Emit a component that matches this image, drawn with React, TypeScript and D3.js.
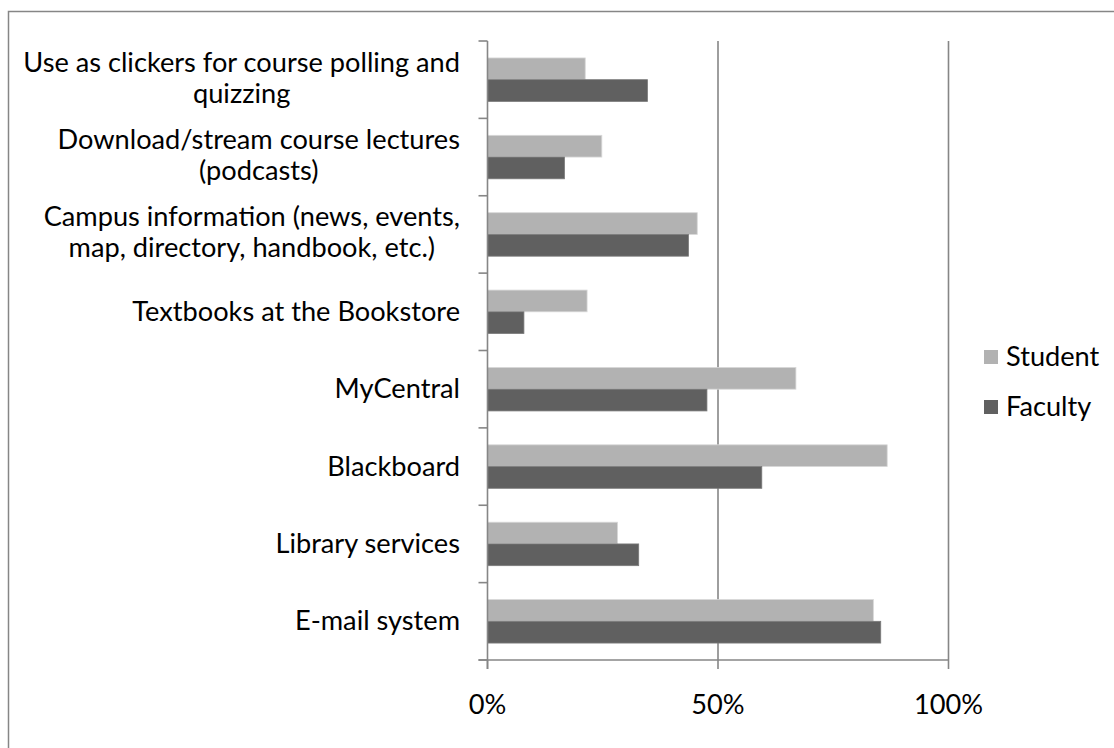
import React, { useEffect, useRef } from "react";
import * as d3 from "d3";

const categories: string[][] = [
  ["Use as clickers for course polling and", "quizzing"],
  ["Download/stream course lectures", "(podcasts)"],
  ["Campus information (news, events,", "map, directory, handbook, etc.)"],
  ["Textbooks at the Bookstore"],
  ["MyCentral"],
  ["Blackboard"],
  ["Library services"],
  ["E-mail system"],
];
const seriesNames = ["Student", "Faculty"];
const studentValues = [0.212, 0.248, 0.455, 0.216, 0.669, 0.867, 0.282, 0.837];
const facultyValues = [0.347, 0.167, 0.436, 0.079, 0.476, 0.595, 0.328, 0.853];
const xTicks = [0, 0.5, 1];
const colors = ["#b2b2b2", "#606060"];

const W = 1114;
const H = 748;
const FONT = "Lato, 'Open Sans', sans-serif";
const FS = 27.2;

export default function App() {
  const ref = useRef<SVGSVGElement | null>(null);

  useEffect(() => {
    const svg = d3.select(ref.current);
    svg.selectAll("*").remove();

    const left = 487.5, right = 948.5, top = 41, bottom = 660;
    const keys = categories.map((c) => c.join(" "));
    const x = d3.scaleLinear().domain([0, 1]).range([left, right]);
    const y = d3.scaleBand<string>().domain(keys).range([top, bottom]).paddingInner(0.438).paddingOuter(0.219);
    const ys = d3.scaleBand<string>().domain(seriesNames).range([0, y.bandwidth()]);
    const step = y.step();
    const gray = "#868686";

    // outer border (clipped by the page)
    svg.append("rect").attr("x", 8.5).attr("y", 11.5).attr("width", 1300).attr("height", 900)
      .attr("fill", "none").attr("stroke", gray).attr("stroke-width", 1.5);

    // gridlines
    svg.append("g").selectAll("line").data(xTicks.filter((t) => t > 0)).join("line")
      .attr("x1", (d) => x(d)).attr("x2", (d) => x(d)).attr("y1", top).attr("y2", bottom)
      .attr("stroke", gray).attr("stroke-width", 1.6);

    // bars
    const data = keys.map((k, i) => ({ k, vals: [studentValues[i], facultyValues[i]] }));
    const g = svg.append("g");
    data.forEach((d) => {
      seriesNames.forEach((s, j) => {
        g.append("rect")
          .attr("x", x(0))
          .attr("y", (y(d.k) as number) + (ys(s) as number))
          .attr("width", x(d.vals[j]) - x(0))
          .attr("height", ys.bandwidth())
          .attr("fill", colors[j])
          .attr("stroke", j === 0 ? "#d8d8d8" : "#7a7a7a")
          .attr("stroke-width", 0.8);
      });
    });

    // y axis
    svg.append("line").attr("x1", left).attr("x2", left).attr("y1", top).attr("y2", bottom + 9)
      .attr("stroke", gray).attr("stroke-width", 1.6);
    const yTickPos = d3.range(keys.length + 1).map((i) => top + i * step);
    svg.append("g").selectAll("line").data(yTickPos).join("line")
      .attr("x1", left - 9).attr("x2", left).attr("y1", (d) => d).attr("y2", (d) => d)
      .attr("stroke", gray).attr("stroke-width", 1.6);

    // x axis
    svg.append("line").attr("x1", left - 9).attr("x2", right).attr("y1", bottom).attr("y2", bottom)
      .attr("stroke", gray).attr("stroke-width", 1.6);
    svg.append("g").selectAll("line").data(xTicks).join("line")
      .attr("x1", (d) => x(d)).attr("x2", (d) => x(d)).attr("y1", bottom).attr("y2", bottom + 9)
      .attr("stroke", gray).attr("stroke-width", 1.6);
    svg.append("g").selectAll("text").data(xTicks).join("text")
      .attr("x", (d) => x(d)).attr("y", 714)
      .attr("text-anchor", "middle")
      .attr("font-family", FONT).attr("font-size", FS).attr("fill", "#000")
      .text((d) => d3.format(".0%")(d));

    // category labels
    const labelRight = 460;
    const lineH = 31;
    categories.forEach((lines, i) => {
      const cy = (y(keys[i]) as number) + y.bandwidth() / 2;
      const grp = svg.append("g");
      const texts = lines.map((ln, li) =>
        grp.append("text")
          .attr("y", cy + 9 + (li - (lines.length - 1) / 2) * lineH - (lines.length > 1 ? 1.5 : 0))
          .attr("text-anchor", "middle")
          .attr("font-family", FONT).attr("font-size", FS).attr("fill", "#000")
          .text(ln)
      );
      const widths = texts.map((t) => (t.node() as SVGTextElement).getComputedTextLength());
      const maxW = Math.max(...widths);
      texts.forEach((t) => t.attr("x", labelRight - maxW / 2));
    });

    // legend
    const lg = svg.append("g");
    seriesNames.forEach((s, j) => {
      const cy = 357 + j * 50;
      lg.append("rect").attr("x", 984).attr("y", cy - 7).attr("width", 14).attr("height", 14).attr("fill", colors[j]);
      lg.append("text").attr("x", 1006).attr("y", cy + 9)
        .attr("font-family", FONT).attr("font-size", FS).attr("fill", "#000").text(s);
    });
  }, []);

  return (
    <svg
      ref={ref}
      width={W}
      height={H}
      style={{ position: "absolute", left: 0, top: 0, background: "#fff" }}
    />
  );
}
